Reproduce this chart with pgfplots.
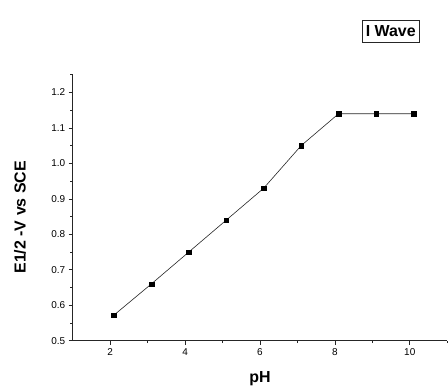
\documentclass[border=0pt]{standalone}
\usepackage{pgfplots}
\pgfplotsset{compat=1.18}
\usepackage{fontspec}
\setmainfont{Liberation Sans}
\begin{document}
\begin{tikzpicture}
\path[use as bounding box] (-72.7bp,-51.3bp) rectangle (375.3bp,340.7bp);
\begin{axis}[
  at={(0,0)}, anchor=south west,
  scale only axis, width=374.5bp, height=266bp,
  xmin=1, xmax=11, ymin=0.5, ymax=1.25,
  axis x line=bottom, axis y line=left,
  axis line style={-, line width=0.8bp, black!85},
  xtick={2,4,6,8,10}, minor xtick={3,5,7,9,11},
  ytick={0.5,0.6,0.7,0.8,0.9,1.0,1.1,1.2},
  minor ytick={0.55,0.65,0.75,0.85,0.95,1.05,1.15,1.25},
  tick align=outside, major tick length=4bp, minor tick length=2.5bp,
  tick style={black!85, line width=0.6bp},
  yticklabel style={/pgf/number format/.cd, fixed, fixed zerofill, precision=1},
  /pgf/number format/assume math mode=true,
  tick label style={font=\fontsize{10}{12}\selectfont},
  xlabel={pH}, ylabel={E1/2 -V vs SCE},
  label style={font=\fontsize{16}{19}\selectfont\bfseries},
  xlabel style={at={(axis description cs:0.5,-0.144)}, anchor=center},
  ylabel style={at={(axis description cs:-0.1407,0.464)}, anchor=center},
  clip=false,
]
\addplot[black!85, line width=0.6bp, mark=square*, mark size=2.35bp,
  mark options={fill=black, draw=black, line width=0.2bp}] coordinates {
  (2.1,0.572) (3.1,0.66) (4.1,0.75) (5.1,0.84) (6.1,0.93)
  (7.1,1.05) (8.1,1.14) (9.1,1.14) (10.1,1.14)
};
\end{axis}
\node[draw=black!85, line width=1bp, inner xsep=3.5bp, inner ysep=5.2bp,
  text height=11.5bp, text depth=0bp,
  font=\fontsize{16}{19}\selectfont\bfseries] at (318bp,309.5bp) {I Wave};
\end{tikzpicture}
\end{document}
